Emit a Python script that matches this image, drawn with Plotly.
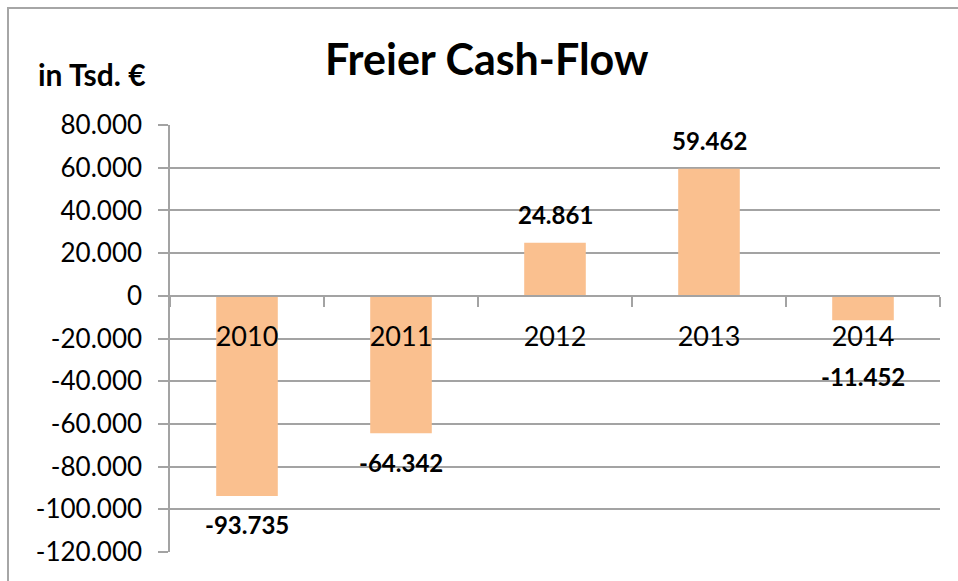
import plotly.graph_objects as go

years = ["2010", "2011", "2012", "2013", "2014"]
cash_flow = [-93735, -64342, 24861, 59462, -11452]
y_ticks = [80000, 60000, 40000, 20000, 0, -20000, -40000, -60000, -80000, -100000, -120000]


def de(v):
    return f"{v:,}".replace(",", ".")


FONT = "Lato"
GRID = "#A3A3A3"
Y_MIN, Y_MAX = -120000, 80000
PLOT_H = 427  # plot area height in px
PX_PER_UNIT = PLOT_H / (Y_MAX - Y_MIN)

fig = go.Figure()
fig.add_trace(go.Bar(
    x=years, y=cash_flow,
    marker=dict(color="#FAC08F", line=dict(width=0)),
    hoverinfo="skip",
))

# value labels, placed at each category's position on the category axis;
# labels of short negative bars are pushed below the category labels
for i, v in enumerate(cash_flow):
    if v >= 0:
        shift = 28
    else:
        bar_px = -v * PX_PER_UNIT
        shift = -max(29, 81 - bar_px)
    fig.add_annotation(
        x=i, y=v, xref="x", yref="y", text=de(v), showarrow=False,
        yshift=shift,
        font=dict(family=FONT, size=24, color="#000000", weight="bold"),
    )

fig.add_annotation(
    xref="paper", yref="paper", x=(487 - 170) / 770, y=(552 - 58) / 427,
    text="Freier Cash-Flow", showarrow=False, xanchor="center", yanchor="middle",
    font=dict(family=FONT, size=43, color="#000000", weight="bold"),
)
fig.add_annotation(
    xref="paper", yref="paper", x=(36 - 170) / 770, y=(552 - 74) / 427,
    text="in Tsd. €", showarrow=False, xanchor="left", yanchor="middle",
    font=dict(family=FONT, size=30, color="#000000", weight="bold"),
)

# outer chart frame
fig.add_shape(
    type="rect", xref="paper", yref="paper",
    x0=(8 - 170) / 770, x1=(990 - 170) / 770,
    y0=(552 - 620) / 427, y1=(552 - 8) / 427,
    line=dict(color="#A6A6A6", width=2), fillcolor="rgba(0,0,0,0)", layer="below",
)

fig.update_layout(
    width=958, height=581,
    margin=dict(l=170, r=18, t=125, b=29),
    paper_bgcolor="white", plot_bgcolor="white",
    showlegend=False,
    bargap=0.6,
    font=dict(family=FONT, color="#000000"),
    xaxis=dict(
        type="category",
        range=[-0.5, 4.5], autorange=False,
        anchor="free", position=0.6,
        showline=True, linecolor=GRID, linewidth=1.5,
        ticks="outside", tickson="boundaries", ticklen=10, tickcolor=GRID, tickwidth=1.5,
        tickfont=dict(family=FONT, size=27, color="#000000"),
        tickangle=0,
        ticklabelstandoff=17,
        showgrid=False, zeroline=False,
        automargin=False,
    ),
    yaxis=dict(
        range=[Y_MIN, Y_MAX], autorange=False,
        tickvals=y_ticks, ticktext=[de(v) for v in y_ticks],
        showgrid=True, gridcolor=GRID, gridwidth=1.5,
        showline=True, linecolor=GRID, linewidth=1.5,
        ticks="outside", ticklen=10, tickcolor=GRID, tickwidth=1.5,
        tickfont=dict(family=FONT, size=26, color="#000000"),
        ticklabelstandoff=11,
        zeroline=False,
        automargin=False,
    ),
)

fig.write_html(
    "out.html",
    config={"displayModeBar": False},
    post_script="document.body.style.margin='0';",
)
